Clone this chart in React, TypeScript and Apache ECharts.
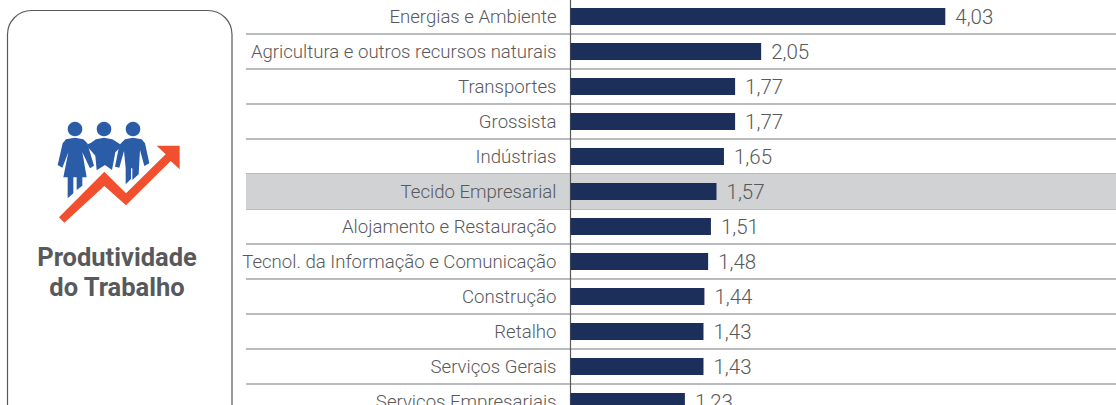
import React, { useEffect, useRef } from "react";
import * as echarts from "echarts";

const categories = [
  "Energias e Ambiente",
  "Agricultura e outros recursos naturais",
  "Transportes",
  "Grossista",
  "Indústrias",
  "Tecido Empresarial",
  "Alojamento e Restauração",
  "Tecnol. da Informação e Comunicação",
  "Construção",
  "Retalho",
  "Serviços Gerais",
  "Serviços Empresariais",
];
const values = [4.03, 2.05, 1.77, 1.77, 1.65, 1.57, 1.51, 1.48, 1.44, 1.43, 1.43, 1.23];
const highlighted = "Tecido Empresarial";
const titleLines = ["Produtividade", "do Trabalho"];

const FONT = "Roboto";
const TEXT = "#58595b";

// icon traced in the zoomed crop space
const p = (pts: number[][]) => pts.map(([x, y]) => [x / 3 + 50, y / 3 + 115]);
const a = (pts: number[][]) => pts.map(([x, y]) => [x / 3, y / 3 + 100]);
const BLUE = "#2b5ca8";
const ORANGE = "#f15030";
const icon = [
  ...[75, 162, 249].map((x) => ({
    type: "circle", shape: { cx: x / 3 + 50, cy: 42 / 3 + 115, r: 7.3 }, style: { fill: BLUE },
  })),
  { type: "polygon", shape: { points: p([[38, 85], [48, 73], [75, 68], [100, 73], [112, 85], [132, 152], [120, 160], [97, 112], [110, 187], [97, 187], [97, 212], [80, 225], [80, 187], [70, 187], [70, 235], [53, 250], [53, 187], [40, 187], [55, 112], [37, 158], [23, 150]]) }, style: { fill: BLUE } },
  { type: "polygon", shape: { points: p([[108, 90], [122, 84], [138, 73], [162, 68], [187, 73], [205, 84], [216, 92], [196, 112], [186, 165], [165, 150], [140, 166], [136, 122]]) }, style: { fill: BLUE } },
  { type: "polygon", shape: { points: p([[208, 90], [225, 73], [249, 68], [275, 73], [285, 85], [298, 145], [283, 153], [270, 105], [266, 178], [247, 195], [247, 160], [243, 160], [243, 192], [227, 208], [227, 160], [222, 108], [208, 158], [195, 155]]) }, style: { fill: BLUE } },
  { type: "polygon", shape: { points: a([[177, 352], [193, 368], [313, 258], [378, 316], [512, 183], [539, 208], [539, 137], [470, 137], [497, 163], [378, 280], [313, 215]]) }, style: { fill: ORANGE } },
];

export default function App() {
  const ref = useRef<HTMLDivElement>(null);
  useEffect(() => {
    document.body.style.margin = "0";
    const chart = echarts.init(ref.current!, undefined, { renderer: "svg" });
    chart.setOption({
      animation: false,
      textStyle: { fontFamily: FONT },
      grid: [
        { left: 246, top: -1, width: 870, height: 420, outerBoundsMode: "none" },
        { left: 570.5, top: -1, width: 558, height: 420, outerBoundsMode: "none" },
      ],
      xAxis: [
        { gridIndex: 0, type: "value", min: 0, max: 1, show: false },
        { gridIndex: 1, type: "value", min: 0, max: 6, show: false },
      ],
      yAxis: [
        {
          gridIndex: 0, type: "category", inverse: true, data: categories,
          axisLine: { show: false }, axisTick: { show: false }, axisLabel: { show: false },
          splitLine: { show: true, interval: 0, lineStyle: { color: "#a3a5a7", width: 1.5 } },
        },
        {
          gridIndex: 1, type: "category", inverse: true, data: categories, z: 5,
          axisLine: { show: true, lineStyle: { color: "#58595b", width: 1.2 } },
          axisTick: { show: false },
          axisLabel: { interval: 0, margin: 14, fontSize: 18.6, fontWeight: 300, color: TEXT, fontFamily: FONT },
        },
      ],
      series: [
        {
          type: "bar", xAxisIndex: 0, yAxisIndex: 0, barWidth: "100%", silent: true, z: 1,
          data: categories.map((c) => (c === highlighted ? 1 : 0)),
          itemStyle: { color: "#d0d2d3" },
        },
        {
          type: "bar", xAxisIndex: 1, yAxisIndex: 1, barWidth: 17, z: 6,
          data: values,
          itemStyle: { color: "#1c2e5a" },
          label: {
            show: true, position: "right", distance: 10, fontSize: 20.5, fontWeight: 300, color: TEXT, fontFamily: FONT,
            formatter: (v: any) => Number(v.value).toFixed(2).replace(".", ","),
          },
        },
      ],
      graphic: [
        { type: "rect", shape: { x: 7.5, y: 10.5, width: 224.5, height: 430, r: 24 }, style: { fill: "none", stroke: "#58595b", lineWidth: 1.2 } },
        ...icon,
        ...titleLines.map((t, i) => ({
          type: "text", x: 117, y: 257 + i * 30,
          style: { text: t, fill: TEXT, font: `700 25.5px ${FONT}`, textAlign: "center", textVerticalAlign: "middle" },
        })),
      ],
    });
    return () => chart.dispose();
  }, []);
  return <div ref={ref} style={{ width: 1116, height: 405 }} />;
}
